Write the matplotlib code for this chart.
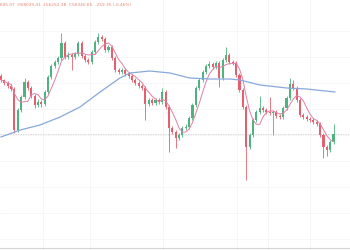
import matplotlib
matplotlib.use('Agg')
import matplotlib.pyplot as plt
import numpy as np
import pandas as pd

# OHLC candles (open of each candle = previous close)
first_open = 58660
closes = [58500, 58380, 58260, 58140, 56500, 57300, 57820, 58420, 58180, 57860,
          57500, 57620, 57540, 58020, 58620, 59060, 59220, 59380, 59980, 59420,
          59500, 59420, 59540, 59980, 59460, 59300, 59220, 59620, 60020, 60220,
          60140, 59700, 59820, 59380, 58900, 58820, 58900, 58740, 58660, 58500,
          58380, 58260, 58180, 57540, 57700, 57580, 57700, 57620, 58020, 57420,
          56580, 56420, 56180, 56300, 56580, 56620, 56980, 57500, 58180, 58500,
          58820, 59060, 59140, 59020, 59180, 58580, 59300, 59500, 59220, 59180,
          58700, 58100, 57420, 55820, 56300, 56900, 57220, 57380, 57300, 57220,
          57180, 57220, 57060, 57020, 57380, 57780, 58340, 58180, 57700, 57100,
          57020, 56940, 56900, 56820, 56740, 56300, 55820, 55700, 56020, 56341]
highs = [58740, 58560, 58460, 58340, 58220, 57400, 57900, 58580, 58500, 58260,
         57940, 57740, 57700, 58100, 58700, 59140, 59300, 59460, 60380, 60060,
         59620, 59580, 59620, 60060, 60060, 59540, 59380, 59700, 60100, 60380,
         60300, 60220, 59900, 59900, 59460, 58980, 59000, 59000, 58820, 58740,
         58580, 58460, 58340, 58260, 57780, 57780, 57780, 57780, 58180, 58100,
         57500, 56660, 56500, 56380, 56660, 56740, 57060, 57580, 58260, 58580,
         58900, 59140, 59260, 59220, 59260, 59260, 59380, 59820, 59580, 59300,
         59260, 58780, 58180, 57500, 56380, 56980, 57300, 57860, 57460, 57380,
         57820, 57300, 57300, 57140, 57460, 57860, 58580, 58500, 58260, 57780,
         57180, 57100, 57020, 56980, 56900, 56820, 56380, 55900, 56100, 56740]
lows = [58420, 58300, 58180, 58060, 56380, 56420, 57220, 57740, 58100, 57780,
        57380, 57420, 57420, 57460, 57940, 58540, 58980, 59140, 59300, 59340,
        59340, 58900, 59340, 59460, 59380, 59220, 59140, 59140, 59540, 59940,
        60060, 59620, 59620, 59300, 58820, 58740, 58740, 58660, 58580, 58420,
        58300, 58180, 58100, 56900, 57460, 57500, 57500, 57540, 57540, 57340,
        55620, 56340, 55780, 56100, 56220, 56500, 56540, 56900, 57420, 58100,
        58420, 58740, 58980, 58940, 58940, 58220, 58500, 59220, 59140, 59100,
        58620, 58020, 57340, 54500, 55740, 56220, 56820, 57140, 57220, 57140,
        57100, 56300, 56980, 56940, 56940, 57300, 57700, 58100, 57620, 57020,
        56940, 56860, 56820, 56740, 56660, 56220, 55380, 55460, 55620, 55940]

# long moving average (blue), sampled along the curve
ma_long_idx = [0, 5.7, 11.6, 17.6, 23.5, 29.5, 35.4, 38.4, 44.3, 50.3, 56.2,
               62.2, 68.2, 71.1, 77.1, 85.1, 91, 99.4]
ma_long_val = [56220, 56500, 56700, 57020, 57420, 58020, 58580, 58780, 58860,
               58780, 58580, 58540, 58540, 58500, 58300, 58180, 58140, 58020]

last_price = 56340.65
header = "605.07  H58039.41  L56252.38  C56340.65  -259.35 (-0.46%)"

grid_x = [12.5, 26.5, 48.2, 70.2, 79.5, 92]
grid_y = [60460, 59420, 58380, 57340, 56300, 55260, 54220, 53180, 52140]

up_col = '#4fb37f'
down_col = '#e4606c'

opens = np.array([first_open] + closes[:-1], dtype=float)
closes = np.array(closes, dtype=float)
highs = np.array(highs, dtype=float)
lows = np.array(lows, dtype=float)
idx = np.arange(len(closes))
colors = np.where(closes >= opens, up_col, down_col)

fig = plt.figure(figsize=(3.5, 2.5), dpi=100)
ax = fig.add_axes([0, 0, 1, 1])
ax.set_xlim(-0.3, 103.9)
ax.set_ylim(51700, 61700)

ax.set_xticks(grid_x)
ax.set_yticks(grid_y)
ax.grid(True, color='#f5f5f5', lw=0.6)
ax.set_axisbelow(True)
ax.tick_params(length=0, labelleft=False, labelbottom=False)
for s in ax.spines.values():
    s.set_visible(False)

ax.vlines(idx, lows, highs, colors=colors, lw=0.6, zorder=2)
body = closes - opens
body = np.where(np.abs(body) < 30, 30, body)
ax.bar(idx, body, bottom=opens, width=0.62, color=colors, lw=0, zorder=3)

ma5 = pd.Series(closes).rolling(5, min_periods=1).mean()
ax.plot(idx, ma5, color='#e07fa6', lw=0.7, zorder=4)
ax.plot(ma_long_idx, ma_long_val, color='#86a9d9', lw=0.9, zorder=4)

ax.axhline(last_price, color='#cccccc', lw=0.6, ls=(0, (1.5, 1.5)), zorder=1)

fig.text(0.0, 0.978, header, fontsize=3.1, color='#e8826f', ha='left', va='center')
fig.add_artist(plt.Line2D([0, 1], [0.008, 0.008], color='#d4d4d4', lw=0.8))

fig.savefig('out.png', dpi=100, facecolor='white')
